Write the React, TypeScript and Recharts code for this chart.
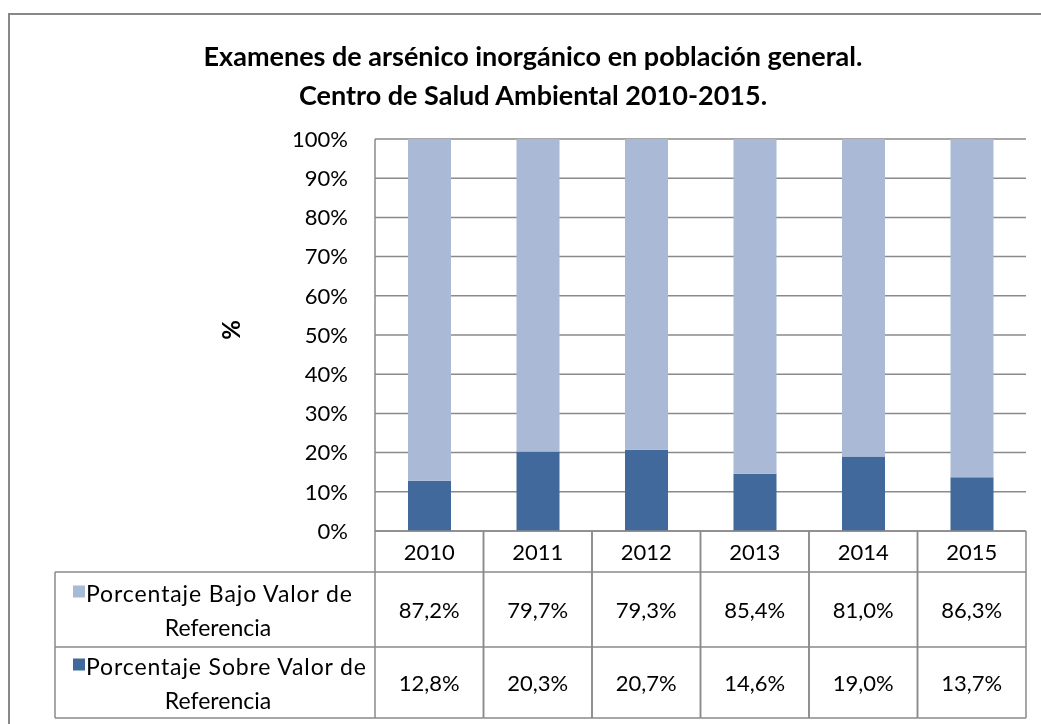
import { BarChart, Bar, XAxis, YAxis, CartesianGrid } from 'recharts'

const YEARS = ['2010', '2011', '2012', '2013', '2014', '2015']
const BAJO = [87.2, 79.7, 79.3, 85.4, 81.0, 86.3]
const SOBRE = [12.8, 20.3, 20.7, 14.6, 19.0, 13.7]
const Y_TICKS = [0, 10, 20, 30, 40, 50, 60, 70, 80, 90, 100]

const SERIES_BAJO = 'Porcentaje Bajo Valor de Referencia'
const SERIES_SOBRE = 'Porcentaje Sobre Valor de Referencia'

const LIGHT = '#AAB9D6'
const DARK = '#41699B'
const LINE = '#8A8A8A'
const FONT = 'Lato, "Open Sans", sans-serif'

// geometria (coords do svg)
const W = 1033
const H = 716
const Y_AXIS_W = 367
const X_AXIS_H = 193
const TOP = 131
const RIGHT = 15
const PLOT_W = W - Y_AXIS_W - RIGHT
const BAND = PLOT_W / YEARS.length
const PLOT_BOTTOM = H - X_AXIS_H
const ROW1 = 564
const ROW2 = 639
const ROW3 = 710

const fmt = (v: number) => v.toFixed(1).replace('.', ',') + '%'

const data = YEARS.map((y, i) => ({ year: y, bajo: BAJO[i], sobre: SOBRE[i] }))

function TableTick({ x, payload, index }: any) {
  const l = x - BAND / 2
  const r = x + BAND / 2
  return (
    <g fontFamily={FONT} fontSize={22} fill="#000">
      <line x1={l} x2={l} y1={PLOT_BOTTOM} y2={ROW3} stroke={LINE} strokeWidth={1.5} />
      <line x1={r} x2={r} y1={PLOT_BOTTOM} y2={ROW3} stroke={LINE} strokeWidth={1.5} />
      <line x1={l} x2={r} y1={ROW1} y2={ROW1} stroke={LINE} strokeWidth={1.5} />
      <line x1={l} x2={r} y1={ROW2} y2={ROW2} stroke={LINE} strokeWidth={1.5} />
      <line x1={l} x2={r} y1={ROW3} y2={ROW3} stroke={LINE} strokeWidth={1.5} />
      <text x={x} y={(PLOT_BOTTOM + ROW1) / 2} textAnchor="middle" dominantBaseline="central">
        {payload.value}
      </text>
      <text x={x} y={(ROW1 + ROW2) / 2} textAnchor="middle" dominantBaseline="central">
        {fmt(BAJO[index])}
      </text>
      <text x={x} y={(ROW2 + ROW3) / 2} textAnchor="middle" dominantBaseline="central">
        {fmt(SOBRE[index])}
      </text>
    </g>
  )
}

function LegendRow({ y1, y2, color, label, len }: { y1: number; y2: number; color: string; label: string; len: number }) {
  const words = label.split(' ')
  const first = words.slice(0, -1).join(' ')
  const last = words[words.length - 1]
  const mid = (y1 + y2) / 2
  return (
    <g fontFamily={FONT} fontSize={23} fill="#000">
      <rect x={65} y={mid - 24} width={12} height={12} fill={color} />
      <text x={78} y={mid - 17} dominantBaseline="central" textLength={len} lengthAdjust="spacing">{first}</text>
      <text x={210} y={mid + 17} textAnchor="middle" dominantBaseline="central">{last}</text>
    </g>
  )
}

export default function App() {
  return (
    <div style={{ position: 'fixed', left: 8, top: 8, width: W, height: H, fontFamily: FONT }}>
      <BarChart
        width={W}
        height={H}
        data={data}
        margin={{ top: TOP, right: RIGHT, bottom: 0, left: 0 }}
        barSize={43}
      >
        <CartesianGrid vertical={false} stroke={LINE} strokeWidth={1.5} />
        <XAxis
          dataKey="year"
          height={X_AXIS_H}
          interval={0}
          tickLine={false}
          axisLine={{ stroke: LINE, strokeWidth: 1.5 }}
          tick={<TableTick />}
        />
        <YAxis
          width={Y_AXIS_W}
          domain={[0, 100]}
          ticks={Y_TICKS}
          tickFormatter={(v: number) => `${v}%`}
          tickLine={false}
          tickSize={0}
          tickMargin={27}
          axisLine={{ stroke: LINE, strokeWidth: 1.5 }}
          tick={{ fill: '#000', fontSize: 22, fontFamily: FONT }}
        />
        <Bar dataKey="sobre" name={SERIES_SOBRE} stackId="a" fill={DARK} isAnimationActive={false} />
        <Bar dataKey="bajo" name={SERIES_BAJO} stackId="a" fill={LIGHT} isAnimationActive={false} />
      </BarChart>

      <svg width={W} height={H} style={{ position: 'absolute', left: 0, top: 0, pointerEvents: 'none' }}>
        {/* moldura */}
        <line x1={1} x2={1} y1={5} y2={H} stroke="#888" strokeWidth={2} />
        <line x1={0} x2={W} y1={6} y2={6} stroke="#888" strokeWidth={2} />
        {/* titulo */}
        <text x={525} y={47} textAnchor="middle" dominantBaseline="central" fontFamily={FONT} fontWeight="bold" fontSize={27}>
          Examenes de arsénico inorgánico en población general.
        </text>
        <text x={525} y={86} textAnchor="middle" dominantBaseline="central" fontFamily={FONT} fontWeight="bold" fontSize={27}>
          Centro de Salud Ambiental 2010-2015.
        </text>
        {/* rotulo do eixo */}
        <text x={222} y={322} textAnchor="middle" dominantBaseline="central" fontFamily={FONT} fontWeight="bold" fontSize={24} transform="rotate(-90 222 322)">
          %
        </text>
        {/* coluna da legenda */}
        <line x1={47} x2={Y_AXIS_W} y1={ROW1} y2={ROW1} stroke={LINE} strokeWidth={1.5} />
        <line x1={47} x2={Y_AXIS_W} y1={ROW2} y2={ROW2} stroke={LINE} strokeWidth={1.5} />
        <line x1={47} x2={Y_AXIS_W} y1={ROW3} y2={ROW3} stroke={LINE} strokeWidth={1.5} />
        <line x1={47} x2={47} y1={ROW1} y2={ROW3} stroke={LINE} strokeWidth={1.5} />
        <LegendRow y1={ROW1} y2={ROW2} color={LIGHT} label={SERIES_BAJO} len={266} />
        <LegendRow y1={ROW2} y2={ROW3} color={DARK} label={SERIES_SOBRE} len={280} />
      </svg>
    </div>
  )
}
